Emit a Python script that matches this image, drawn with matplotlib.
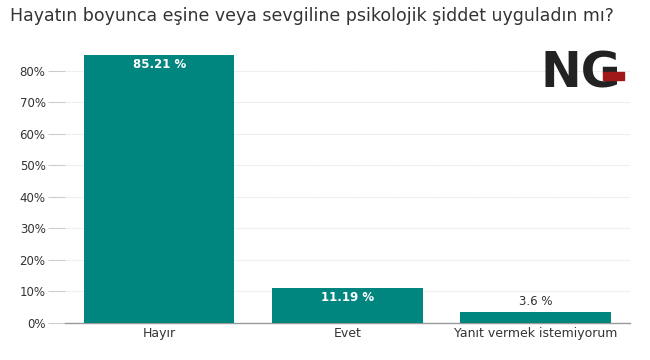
import matplotlib.pyplot as plt
from matplotlib.patches import Rectangle

categories = ['Hayır', 'Evet', 'Yanıt vermek istemiyorum']
values = [85.21, 11.19, 3.6]
value_labels = ['85.21 %', '11.19 %', '3.6 %']
yticks = [0, 10, 20, 30, 40, 50, 60, 70, 80]

bar_color = '#00857f'
text_color = '#333333'

fig = plt.figure(figsize=(6.5, 3.6), dpi=100)
ax = fig.add_axes([0.1, 0.103, 0.869, 0.77])

x = list(range(len(categories)))
ax.bar(x, values, width=0.8, color=bar_color, zorder=3)
ax.set_xlim(-0.5, len(categories) - 0.5)
ax.set_ylim(0, 88)

# value labels: inside tall bars, above the short one
for i, (v, lab) in enumerate(zip(values, value_labels)):
    if v > 8:
        ax.text(i, v - 1.2, lab, ha='center', va='top', color='white',
                fontsize=8.5, fontweight='bold', zorder=4)
    else:
        ax.text(i, v + 1.2, lab, ha='center', va='bottom', color=text_color,
                fontsize=8.5, zorder=4)

ax.set_yticks(yticks)
ax.set_yticklabels([f'{t}%' for t in yticks], fontsize=8.5, color=text_color)
ax.set_xticks(x)
ax.set_xticklabels(categories, fontsize=9, color=text_color)
ax.tick_params(axis='y', length=12, color='#cccccc', pad=2)
ax.tick_params(axis='x', length=0, pad=3)
ax.grid(axis='y', color='#e8e8e8', linewidth=0.8, linestyle=(0, (1, 0.5)), zorder=0)

for s in ['top', 'right', 'left']:
    ax.spines[s].set_visible(False)
ax.spines['bottom'].set_color('#999999')
ax.spines['bottom'].set_linewidth(1.0)

fig.text(0.015, 0.955, 'Hayatın boyunca eşine veya sevgiline psikolojik şiddet uyguladın mı?',
         fontsize=12.5, color=text_color, ha='left', va='center')

# logo
fig.text(0.893, 0.795, 'NG', fontsize=35, fontweight='bold', color='#222222',
         ha='center', va='center')
fig.patches.append(Rectangle((0.928, 0.778), 0.032, 0.022, transform=fig.transFigure,
                             color='#a01818', zorder=5))

fig.savefig('out.png', dpi=100)
